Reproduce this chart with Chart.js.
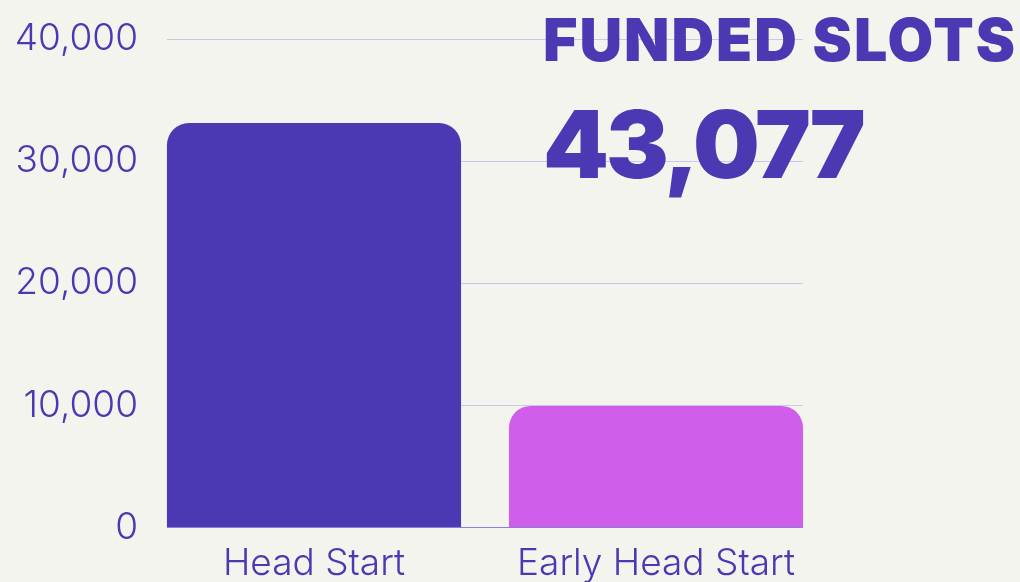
<!DOCTYPE html>
<html>
<head>
<meta charset="utf-8">
<script src="https://cdn.jsdelivr.net/npm/chart.js@4"></script>
<style>
    html, body {
        margin: 0;
        padding: 0;
        background: #f4f4ef;
        overflow: hidden;
    }
    .wrap {
        position: relative;
        width: 1020px;
        height: 582px;
    }
    .headline {
        position: absolute;
        left: 543px;
        top: 4px;
        color: #4b38b3;
        font-family: Inter, sans-serif;
        font-weight: 900;
        pointer-events: none;
    }
    .headline .label {
        font-size: 59px;
        line-height: 72px;
        letter-spacing: 2px;
    }
    .headline .total {
        font-size: 94px;
        line-height: 100px;
        margin-top: 18px;
        letter-spacing: -3px;
    }
</style>
</head>
<body>
<div class="wrap">
    <canvas id="slotsChart" width="1020" height="582"></canvas>
    <div class="headline">
        <div class="label" id="headlineLabel"></div>
        <div class="total" id="headlineTotal"></div>
    </div>
</div>
<script>
// Chart data
const categories = ['Head Start', 'Early Head Start'];
const fundedSlots = [33114, 9963];
const barColors = ['#4b38b3', '#d05eeb'];
const yMax = 40000;
const yStep = 10000;
const headlineText = 'FUNDED SLOTS';

// Format number with commas
function formatNumber(num) {
    return num.toString().replace(/\B(?=(\d{3})+(?!\d))/g, ",");
}

// Grid lines only span the bars, not the whole chart area
const barGridPlugin = {
    id: 'barGrid',
    beforeDatasetsDraw(chart) {
        const bars = chart.getDatasetMeta(0).data;
        if (!bars.length) return;
        const left = bars[0].x - bars[0].width / 2;
        const right = bars[bars.length - 1].x + bars[bars.length - 1].width / 2;
        const yScale = chart.scales.y;
        const ctx = chart.ctx;
        ctx.save();
        ctx.lineWidth = 1;
        ctx.strokeStyle = '#cbc5ea';
        yScale.ticks.forEach(t => {
            if (t.value === 0) return;
            const y = Math.round(yScale.getPixelForValue(t.value)) + 0.5;
            ctx.beginPath();
            ctx.moveTo(left, y);
            ctx.lineTo(right, y);
            ctx.stroke();
        });
        ctx.restore();
    },
    afterDatasetsDraw(chart) {
        const bars = chart.getDatasetMeta(0).data;
        if (!bars.length) return;
        const left = bars[0].x - bars[0].width / 2;
        const right = bars[bars.length - 1].x + bars[bars.length - 1].width / 2;
        const y = Math.round(chart.scales.y.getPixelForValue(0)) - 0.5;
        const ctx = chart.ctx;
        ctx.save();
        ctx.lineWidth = 1;
        ctx.strokeStyle = '#8a7fd8';
        ctx.beginPath();
        ctx.moveTo(left, y);
        ctx.lineTo(right, y);
        ctx.stroke();
        ctx.restore();
    }
};

function initializeChart() {
    document.getElementById('headlineLabel').textContent = headlineText;
    const total = fundedSlots.reduce((a, b) => a + b, 0);
    document.getElementById('headlineTotal').textContent = formatNumber(total);

    const ctx = document.getElementById('slotsChart');
    new Chart(ctx, {
        type: 'bar',
        data: {
            labels: categories,
            datasets: [{
                data: fundedSlots,
                backgroundColor: barColors,
                borderWidth: 0,
                borderRadius: { topLeft: 22, topRight: 22, bottomLeft: 0, bottomRight: 0 },
                borderSkipped: false,
                barPercentage: 0.86,
                categoryPercentage: 1
            }]
        },
        options: {
            responsive: false,
            animation: false,
            layout: {
                padding: { top: 39, right: 193, bottom: -18, left: 0 }
            },
            plugins: {
                legend: { display: false },
                tooltip: { enabled: false }
            },
            scales: {
                x: {
                    grid: { display: false, drawTicks: false },
                    border: { display: false },
                    ticks: {
                        color: '#4b38b3',
                        padding: 14,
                        font: { family: 'Inter', size: 37, weight: 300 }
                    }
                },
                y: {
                    min: 0,
                    max: yMax,
                    afterFit(scale) { scale.width = 143; },
                    grid: { display: false, drawTicks: false },
                    border: { display: false },
                    ticks: {
                        stepSize: yStep,
                        color: '#4b38b3',
                        padding: 5,
                        font: { family: 'Inter', size: 37, weight: 300 },
                        callback: value => formatNumber(value)
                    }
                }
            }
        },
        plugins: [barGridPlugin]
    });
}

document.addEventListener('DOMContentLoaded', initializeChart);
</script>
</body>
</html>
